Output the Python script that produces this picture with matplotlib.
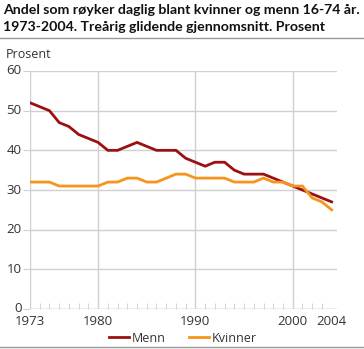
import matplotlib
matplotlib.use("Agg")
import matplotlib.pyplot as plt
from matplotlib.lines import Line2D

years = list(range(1973, 2005))
menn = [52, 51, 50, 47, 46, 44, 43, 42, 40, 40, 41, 42, 41, 40, 40, 40,
        38, 37, 36, 37, 37, 35, 34, 34, 34, 33, 32, 31, 30, 29, 28, 27]
kvinner = [32, 32, 32, 31, 31, 31, 31, 31, 32, 32, 33, 33, 32, 32, 33, 34,
           34, 33, 33, 33, 33, 32, 32, 32, 33, 32, 32, 31, 31, 28, 27, 25]
xticks = [1973, 1980, 1990, 2000, 2004]
yticks = [0, 10, 20, 30, 40, 50, 60]

plt.rcParams['font.family'] = ['Open Sans', 'DejaVu Sans']
W, H = 364, 349
fig = plt.figure(figsize=(W/100, H/100), dpi=100)
ax = fig.add_axes([30/W, (H-309)/H, (337-30)/W, (309-71)/H])

red = '#9b1111'
orange = '#f7941d'
ax.plot(years, menn, color=red, lw=2, zorder=3, solid_joinstyle='miter')
ax.plot(years, kvinner, color=orange, lw=2, zorder=3, solid_joinstyle='miter')

ax.set_xlim(1973, 2004.55)
ax.set_ylim(0, 60)
ax.set_yticks(yticks)
ax.set_xticks(xticks)
ax.set_xticks(years, minor=True)
grid = '#d0d0d0'
ax.grid(True, which='major', axis='y', color=grid, lw=1)
for x in [1973, 1980, 1990, 2000]:
    ax.axvline(x, color=grid, lw=1, zorder=1)
for s in ax.spines.values():
    s.set_visible(False)
ax.axhline(0, color=grid, lw=1)
ax.tick_params(axis='y', length=5, color=grid, labelsize=9.5, labelcolor='#333333', pad=1)
ax.tick_params(axis='x', which='major', direction='in', length=0, labelsize=9.5,
               labelcolor='#333333', pad=4)
ax.tick_params(axis='x', which='minor', direction='in', length=4, color=grid)
for lbl in ax.get_yticklabels():
    lbl.set_va('center')

tfont = dict(family=['Lato', 'DejaVu Sans'], fontsize=10.2, fontweight='bold',
             va='center', ha='left', color='#111111')
fig.text(3/W, 1-10/H, 'Andel som røyker daglig blant kvinner og menn 16-74 år.', **tfont)
fig.text(3/W, 1-27/H, '1973-2004. Treårig glidende gjennomsnitt. Prosent', **tfont)
fig.add_artist(Line2D([0, 1], [1-37.5/H, 1-37.5/H], color='#999999', lw=1))
fig.add_artist(Line2D([0, 1], [1-347/H, 1-347/H], color='#999999', lw=1))
fig.text(6/W, 1-54/H, 'Prosent', fontsize=9, va='center', ha='left', color='#333333')

handles = [Line2D([], [], color=red, lw=2), Line2D([], [], color=orange, lw=2)]
fig.legend(handles, ['Menn', 'Kvinner'], loc='center', bbox_to_anchor=(183/W, 1-338/H),
           ncol=2, frameon=False, fontsize=9, handlelength=1.6, handletextpad=0.2,
           columnspacing=1.9, labelcolor='#333333')

fig.savefig('out.png', dpi=100)
